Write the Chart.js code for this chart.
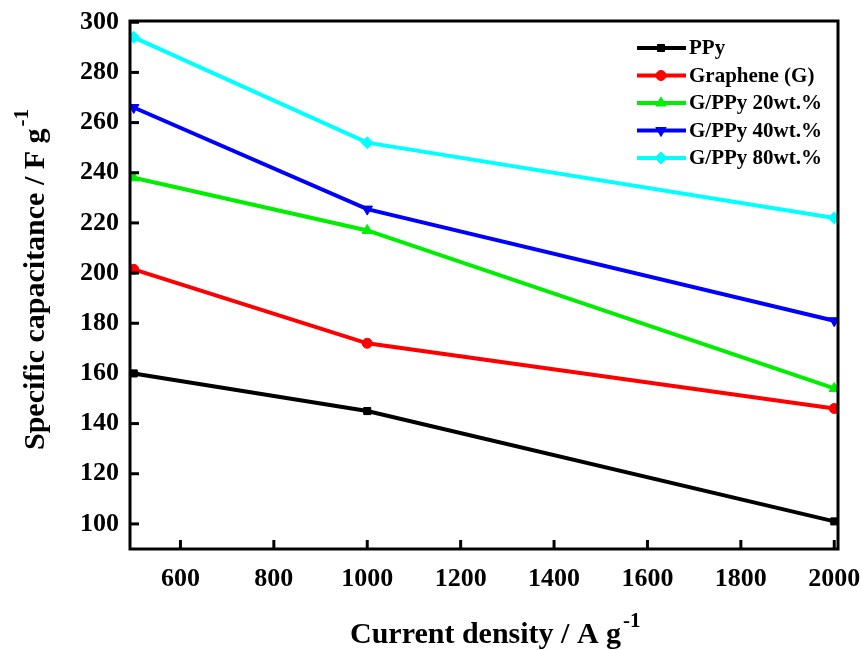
<!DOCTYPE html>
<html><head><meta charset="utf-8">
<script src="https://cdn.jsdelivr.net/npm/chart.js@4/dist/chart.umd.min.js"></script>
<style>html,body{margin:0;padding:0;background:#fff}#wrap{width:862px;height:650px}</style>
</head><body><div id="wrap"><canvas id="c" width="862" height="650"></canvas></div>
<script>
const currentDensity = [500, 1000, 2000];
const ppy = [160, 145, 101];
const graphene = [201.5, 172, 146];
const gppy20 = [238, 217, 154];
const gppy40 = [266, 225.5, 181];
const gppy80 = [294, 252, 222];
const seriesNames = ['PPy', 'Graphene (G)', 'G/PPy 20wt.%', 'G/PPy 40wt.%', 'G/PPy 80wt.%'];
const xTickValues = [600, 800, 1000, 1200, 1400, 1600, 1800, 2000];
const yTickValues = [100, 120, 140, 160, 180, 200, 220, 240, 260, 280, 300];
const xTitle = 'Current density / A g';
const yTitle = 'Specific capacitance / F g';
const unitSup = '-1';

const FONT = '"Liberation Serif", "Times New Roman", serif';
const styles = [
  {c:'#000000', p:'rect', r:0, rad:5},
  {c:'#ff0000', p:'circle', r:0, rad:5},
  {c:'#00ee00', p:'triangle', r:0, rad:6},
  {c:'#0000ff', p:'triangle', r:180, rad:6},
  {c:'#00ffff', p:'rectRot', r:0, rad:6}
];
const allSeries = [ppy, graphene, gppy20, gppy40, gppy80];
const datasets = allSeries.map((s, i) => ({
  label: seriesNames[i],
  data: s.map((v, j) => ({x: currentDensity[j], y: v})),
  borderColor: styles[i].c,
  backgroundColor: styles[i].c,
  borderWidth: 4,
  pointStyle: styles[i].p,
  pointRotation: styles[i].r,
  pointRadius: styles[i].rad,
  pointBorderWidth: 1,
  tension: 0
}));

const framePlugin = {
  id: 'frame',
  afterDraw(chart) {
    const ctx = chart.ctx, a = chart.chartArea;
    const xs = chart.scales.x, ys = chart.scales.y;
    ctx.save();
    ctx.strokeStyle = '#000';
    ctx.lineWidth = 3;
    ctx.strokeRect(a.left, a.top, a.right - a.left, a.bottom - a.top);
    xTickValues.forEach(v => {
      const px = xs.getPixelForValue(v);
      ctx.beginPath(); ctx.moveTo(px, a.bottom); ctx.lineTo(px, a.bottom - 9); ctx.stroke();
    });
    yTickValues.forEach(v => {
      const py = ys.getPixelForValue(v);
      ctx.beginPath(); ctx.moveTo(a.left, py); ctx.lineTo(a.left + 9, py); ctx.stroke();
    });
    ctx.fillStyle = '#000';
    ctx.textBaseline = 'alphabetic';
    const big = 'bold 30px ' + FONT, small = 'bold 21px ' + FONT;
    ctx.font = big; const w1 = ctx.measureText(xTitle).width;
    const x0 = 350;
    ctx.textAlign = 'left'; ctx.fillText(xTitle, x0, 643);
    ctx.font = small; ctx.fillText(unitSup, x0 + w1 + 2, 627);
    ctx.save();
    ctx.translate(44, 450);
    ctx.rotate(-Math.PI / 2);
    ctx.font = big; const v1 = ctx.measureText(yTitle).width;
    ctx.fillText(yTitle, 0, 0);
    ctx.font = small; ctx.fillText(unitSup, v1 + 2, -16);
    ctx.restore();
    chart.data.datasets.forEach((ds, i) => {
      const ly = 48 + i * 27.5;
      ctx.strokeStyle = ds.borderColor; ctx.lineWidth = 4;
      ctx.beginPath(); ctx.moveTo(637, ly); ctx.lineTo(686, ly); ctx.stroke();
      ctx.fillStyle = ds.backgroundColor; ctx.strokeStyle = ds.borderColor; ctx.lineWidth = 1;
      Chart.helpers.drawPoint(ctx, {pointStyle: ds.pointStyle, rotation: ds.pointRotation, radius: ds.pointRadius, borderWidth: 1}, 661, ly);
      ctx.fillStyle = '#000';
      ctx.font = 'bold 21px ' + FONT; ctx.textAlign = 'left'; ctx.textBaseline = 'middle';
      ctx.fillText(ds.label, 689, ly + 1);
    });
    ctx.restore();
  }
};

new Chart(document.getElementById('c'), {
  type: 'line',
  data: { datasets },
  plugins: [framePlugin],
  options: {
    responsive: false,
    animation: false,
    layout: { padding: { top: 21, right: 24, left: 0, bottom: 0 } },
    plugins: { legend: { display: false }, tooltip: { enabled: false } },
    scales: {
      x: {
        type: 'linear', min: 492, max: 2008,
        afterBuildTicks: s => { s.ticks = xTickValues.map(v => ({value: v})); },
        afterFit: s => { s.height = 101; s.paddingLeft = 0; s.paddingRight = 0; },
        grid: { display: false, drawTicks: false },
        border: { display: false },
        ticks: { color: '#000', padding: 15, font: { family: FONT, size: 26, weight: 'bold' }, maxRotation: 0, callback: v => String(v) }
      },
      y: {
        type: 'linear', min: 90, max: 300.5,
        afterBuildTicks: s => { s.ticks = yTickValues.map(v => ({value: v})); },
        afterFit: s => { s.width = 130; s.paddingTop = 0; s.paddingBottom = 0; },
        grid: { display: false, drawTicks: false },
        border: { display: false },
        ticks: { color: '#000', padding: 11, font: { family: FONT, size: 26, weight: 'bold' }, callback: v => String(v) }
      }
    }
  }
});
</script></body></html>
